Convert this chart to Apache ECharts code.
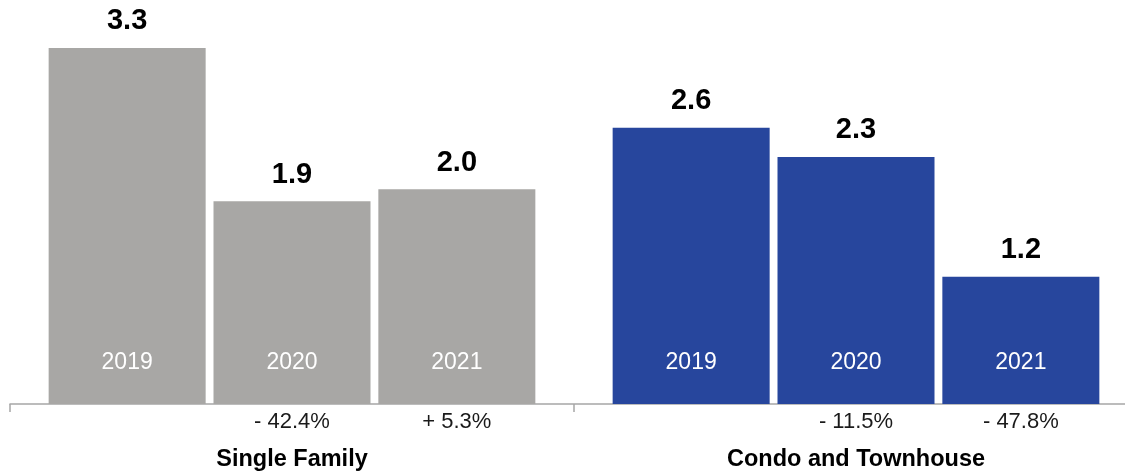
<!DOCTYPE html>
<html style="height: 100%">
<head>
	<meta charset="utf-8">
</head>
<body style="height: 100%; margin: 0">
<div id="container" style="width: 1125px; height: 474px"></div>
<script type="text/javascript" src="https://cdn.jsdelivr.net/npm/echarts@6/dist/echarts.min.js"></script>
<script type="text/javascript">
    var dom = document.getElementById("container");
    var myChart = echarts.init(dom);
    var option = null;

	var categories = ['Single Family', 'Condo and Townhouse'];
	var years = ['2019', '2020', '2021'];
	// values per year, [single family, condo]
	var values2019 = [3.3, 2.56];
	var values2020 = [1.88, 2.29];
	var values2021 = [1.99, 1.18];
	var changes2019 = ['', ''];
	var changes2020 = ['- 42.4%', '- 11.5%'];
	var changes2021 = ['+ 5.3%', '- 47.8%'];

	var colorList = ['#a8a7a5', '#27469d'];
	var font = "'Liberation Sans', Arial, Helvetica, sans-serif";

	var yearValues = [values2019, values2020, values2021];
	var yearChanges = [changes2019, changes2020, changes2021];

	var series = [];
	var i;
	for (i = 0; i < years.length; i++) {
		series.push({
			type: 'bar',
			name: years[i],
			xAxisIndex: 0,
			barWidth: 157,
			barGap: '5%',
			silent: true,
			data: yearValues[i].map(function (v, k) {
				return { value: v, itemStyle: { color: colorList[k] } };
			}),
			label: {
				show: true,
				position: 'top',
				distance: 12,
				fontFamily: font,
				fontSize: 29,
				fontWeight: 'bold',
				color: '#000',
				formatter: function (p) {
					return p.value.toFixed(1);
				}
			}
		});
	}
	// overlay bars carrying the year and change labels
	for (i = 0; i < years.length; i++) {
		(function (idx) {
			series.push({
				type: 'bar',
				name: years[idx] + ' labels',
				xAxisIndex: 1,
				barWidth: 157,
				barGap: '5%',
				silent: true,
				z: 3,
				itemStyle: { color: 'rgba(0,0,0,0)' },
				data: yearValues[idx],
				label: {
					show: true,
					position: ['50%', '100%'],
					align: 'center',
					verticalAlign: 'middle',
					offset: [0, -12],
					fontFamily: font,
					formatter: function (p) {
						var c = yearChanges[idx][p.dataIndex] || ' ';
						return '{y|' + years[idx] + '}\n{p|' + c + '}';
					},
					rich: {
						y: { color: '#fff', fontSize: 23, lineHeight: 59, fontFamily: font },
						p: { color: '#1a1a1a', fontSize: 22, lineHeight: 59, fontFamily: font }
					}
				}
			});
		})(i);
	}

	option = {
		backgroundColor: '#ffffff',
		animation: false,
		grid: {
			left: 10,
			top: 26.4,
			width: 1128,
			height: 377.6,
			outerBoundsMode: 'none'
		},
		xAxis: [{
			type: 'category',
			data: categories,
			axisLine: { lineStyle: { color: '#a6a6a6', width: 1.5 } },
			axisTick: { show: true, length: 8, lineStyle: { color: '#a6a6a6', width: 1.5 } },
			axisLabel: {
				margin: 44,
				fontFamily: font,
				fontSize: 23.5,
				fontWeight: 'bold',
				color: '#000'
			}
		}, {
			type: 'category',
			data: categories,
			show: false
		}],
		yAxis: {
			type: 'value',
			min: 0,
			max: 3.5,
			show: false,
			splitLine: { show: false }
		},
		series: series
	};

	if (option && typeof option === "object") {
        myChart.setOption(option, true);
    }
</script>
</body>
</html>
